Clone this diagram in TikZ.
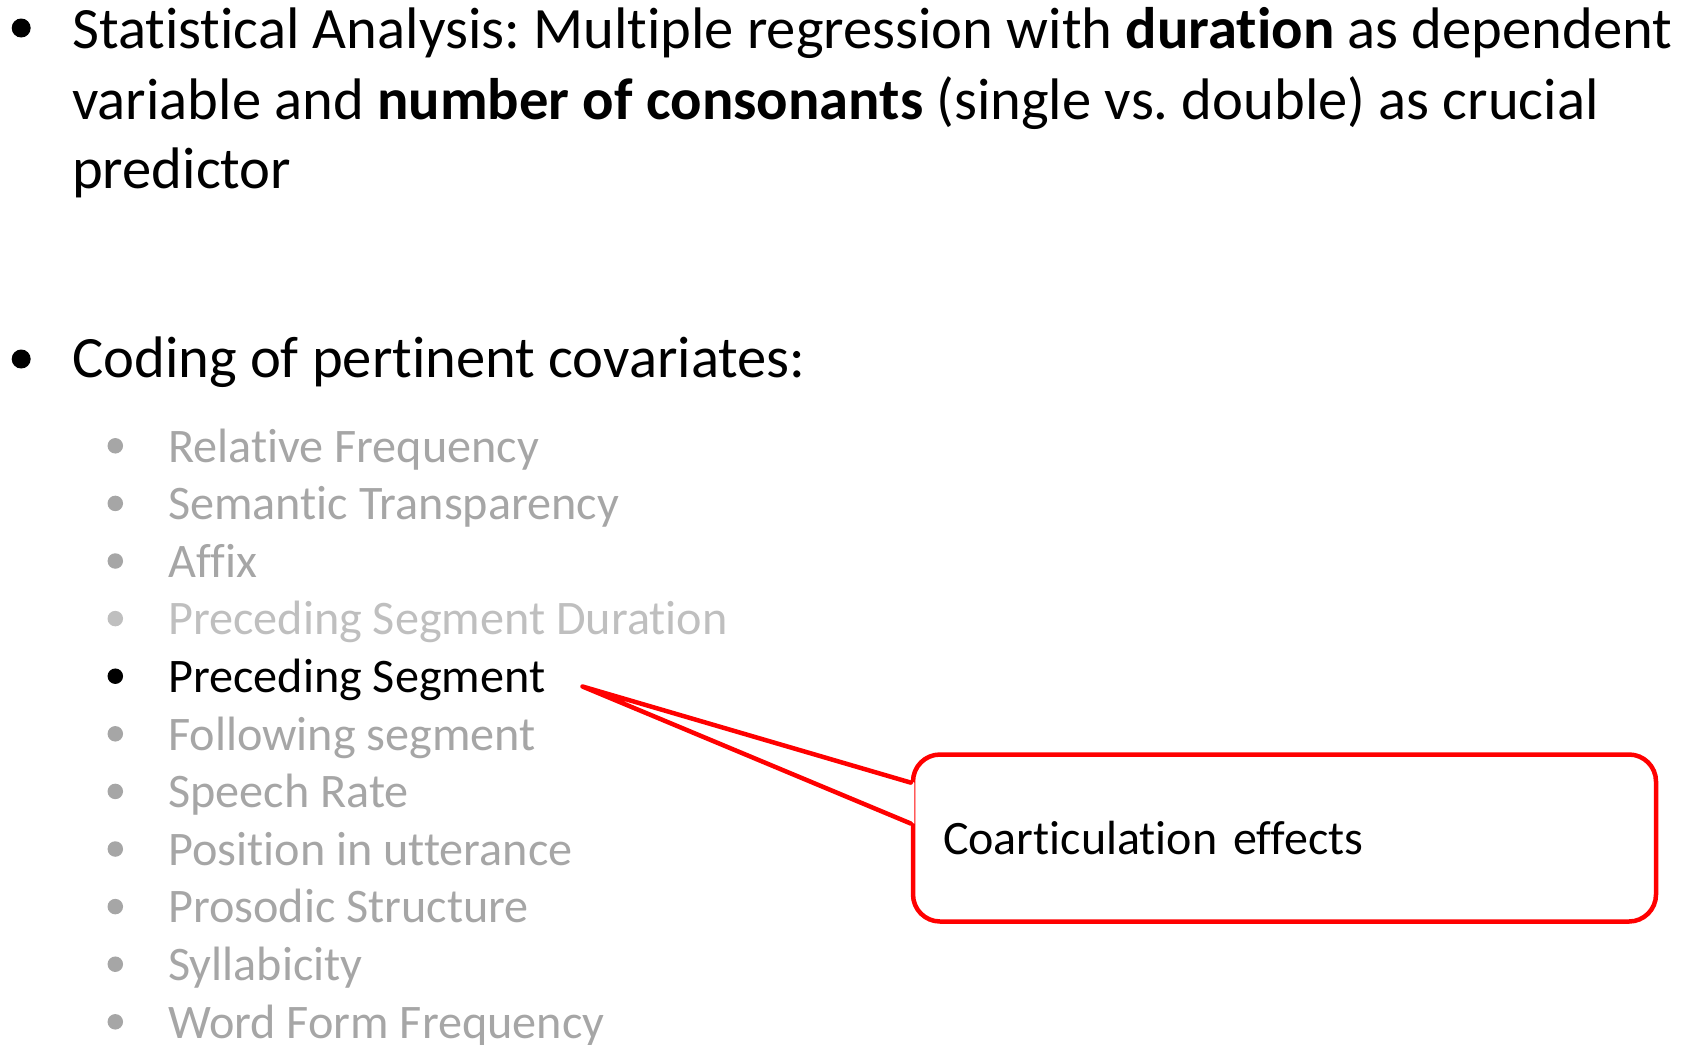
\documentclass[tikz,border=0pt]{standalone}
\usepackage{fontspec}
\setmainfont{Carlito}[Ligatures=NoCommon]
\frenchspacing
\definecolor{itemgray}{HTML}{A6A6A6}
\definecolor{itemlight}{HTML}{BFBFBF}
\definecolor{calloutred}{HTML}{FF0000}

\begin{document}
\begin{tikzpicture}[x=1pt, y=-1pt,
    every node/.style={inner sep=0pt, anchor=base west},
    mainitem/.style={font=\fontsize{58.6}{70}\selectfont},
    subitem/.style={font=\fontsize{48.2}{58}\selectfont},
    bigdot/.style={circle, fill=black, minimum size=19pt, anchor=center},
    smalldot/.style={circle, minimum size=15.5pt, anchor=center},
    callout/.style={draw=calloutred, line width=4.5pt, rounded corners=27pt,
      minimum width=743pt, minimum height=167pt, text width=683pt,
      inner xsep=30pt, align=left, anchor=center,
      font=\fontsize{48}{58}\selectfont},
    tail/.style={draw=calloutred, line width=4.5pt, line cap=round, line join=round}]
  \useasboundingbox (0,0) rectangle (1688,1044);

  % top level bullets
  \node[bigdot] (dot1) at (21.2,28) {};
  \node[mainitem] (stat1) at (72,48) {Statistical Analysis: Multiple regression with \textbf{duration} as dependent};
  \node[mainitem] (stat2) at (72,119) {variable and \textbf{number of consonants} (single vs.\ double) as crucial};
  \node[mainitem] (stat3) at (72,188) {predictor};
  \node[bigdot] (dot2) at (21.2,359) {};
  \node[mainitem] (coding) at (72,377) {Coding of pertinent covariates:};

  % covariates
  \foreach \txt/\col [count=\i] in {Relative Frequency/itemgray,
      Semantic Transparency/itemgray, Affix/itemgray,
      Preceding Segment Duration/itemlight, Preceding Segment/black,
      Following segment/itemgray, Speech Rate/itemgray,
      Position in utterance/itemgray, Prosodic Structure/itemgray,
      Syllabicity/itemgray, Word Form Frequency/itemgray}
  {
    \node[smalldot, fill=\col] (sdot\i) at (115.3,{445.8+57.6*(\i-1)}) {};
    \node[subitem, text=\col] (cov\i) at (168,{462+57.6*(\i-1)}) {\txt};
  }

  % callout
  \node[callout] (coart) at (1284.5,838) {Coarticulation effects};
  \coordinate (tip) at (582.5,686.5);
  \coordinate (j1) at ([yshift=55.4pt]coart.west);
  \coordinate (j2) at ([yshift=14.5pt]coart.west);
  \fill[white] ([xshift=3.5pt]j1) -- (tip) -- ([xshift=3.5pt]j2) -- cycle;
  \draw[tail] (j1) -- (tip) -- (j2);
\end{tikzpicture}
\end{document}
